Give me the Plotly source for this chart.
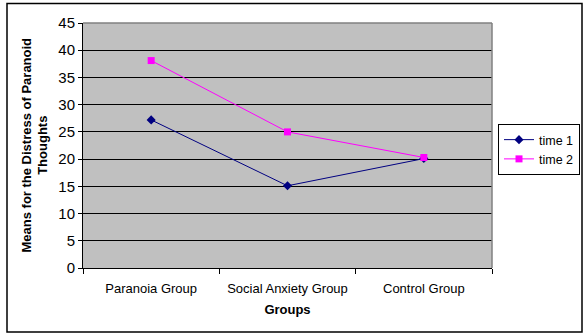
import plotly.graph_objects as go

categories = ["Paranoia Group", "Social Anxiety Group", "Control Group"]
time1 = [27.2, 15.1, 20.1]
time2 = [38.1, 25.0, 20.3]
y_ticks = [0, 5, 10, 15, 20, 25, 30, 35, 40, 45]

W, H = 585, 335
L, R, T, B = 83, 492, 23, 268  # plot area in pixels

def px_x(p):
    return (p - L) / (R - L)

def px_y(p):
    return (B - p) / (B - T)

font = "Liberation Sans, Arial, sans-serif"

fig = go.Figure()
fig.add_trace(go.Scatter(
    x=categories, y=time1, name="time 1", mode="lines+markers",
    line=dict(color="#000080", width=1),
    marker=dict(symbol="diamond", size=7, color="#000080"),
))
fig.add_trace(go.Scatter(
    x=categories, y=time2, name="time 2", mode="lines+markers",
    line=dict(color="#FF00FF", width=1),
    marker=dict(symbol="square", size=7, color="#FF00FF"),
))

fig.update_layout(
    width=W, height=H,
    margin=dict(l=L, r=W - R, t=T, b=H - B, autoexpand=False),
    paper_bgcolor="white",
    plot_bgcolor="#C0C0C0",
    font=dict(family=font, size=13, color="black"),
    showlegend=True,
    legend=dict(
        xref="container", yref="container",
        x=580 / W, y=1 - 124 / H, xanchor="right", yanchor="top",
        bordercolor="black", borderwidth=1, bgcolor="white",
        font=dict(size=12.5, family=font),
        tracegroupgap=0, itemwidth=30,
    ),
    xaxis=dict(
        type="category", range=[-0.5, 2.5],
        showgrid=False, showline=True, linecolor="black", linewidth=1,
        ticks="outside", tickson="boundaries", ticklen=5, tickcolor="black",
        ticklabelstandoff=8,
        tickfont=dict(size=13, family=font),
        title=dict(text="<b>Groups</b>", font=dict(size=13, family=font), standoff=10),
        zeroline=False, automargin=False,
    ),
    yaxis=dict(
        range=[0, 45], tickvals=y_ticks,
        showgrid=True, gridcolor="black", gridwidth=1,
        showline=True, linecolor="black", linewidth=1,
        ticks="outside", ticklen=4, tickcolor="black",
        tickfont=dict(size=15, family=font),
        zeroline=False, automargin=False,
    ),
    annotations=[dict(
        text="<b>Means for the Distress of Paranoid<br>Thoughts</b>",
        textangle=-90, xref="paper", yref="paper",
        x=px_x(34), y=0.5, xanchor="center", yanchor="middle",
        showarrow=False, font=dict(size=13, family=font),
    )],
    shapes=[
        dict(type="line", xref="paper", yref="paper", x0=0, x1=1, y0=1, y1=1,
             line=dict(color="#808080", width=1.5)),
        dict(type="line", xref="paper", yref="paper", x0=1, x1=1, y0=0, y1=1,
             line=dict(color="#808080", width=1.5)),
        dict(type="rect", xref="paper", yref="paper",
             x0=px_x(7), x1=px_x(582), y0=px_y(3.5), y1=px_y(332),
             line=dict(color="black", width=1.5), layer="above"),
    ],
)

fig.write_html(
    "out.html",
    config={"displayModeBar": False},
    post_script="document.body.style.margin='0';document.body.style.padding='0';",
)
